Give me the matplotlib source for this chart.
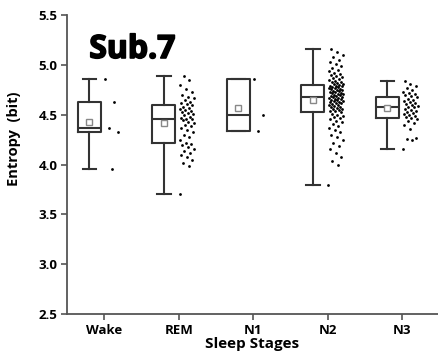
import matplotlib.pyplot as plt
import matplotlib.patheffects as pe
import numpy as np

stages = ['Wake', 'REM', 'N1', 'N2', 'N3']

wake = [4.86, 4.63, 4.37, 4.33, 3.95]
rem = [3.70, 3.98, 4.02, 4.05, 4.08, 4.10, 4.12, 4.14, 4.16, 4.18,
       4.20, 4.21, 4.22, 4.25, 4.28, 4.30, 4.33, 4.35, 4.37, 4.39,
       4.40, 4.42, 4.43, 4.45, 4.46, 4.46, 4.47, 4.48, 4.50, 4.51,
       4.52, 4.53, 4.54, 4.55, 4.56, 4.57, 4.58, 4.60, 4.61, 4.62,
       4.63, 4.65, 4.67, 4.68, 4.70, 4.73, 4.76, 4.80, 4.85, 4.89]
n1 = [4.86, 4.50, 4.34]
n2 = [3.79, 4.00, 4.04, 4.08, 4.12, 4.16, 4.19, 4.22, 4.25, 4.28,
      4.30, 4.33, 4.35, 4.37, 4.39, 4.41, 4.43, 4.44, 4.46, 4.47,
      4.48, 4.49, 4.50, 4.51, 4.53, 4.54, 4.54, 4.55, 4.56, 4.56,
      4.57, 4.58, 4.58, 4.59, 4.60, 4.60, 4.61, 4.62, 4.62, 4.63,
      4.63, 4.64, 4.64, 4.65, 4.65, 4.66, 4.66, 4.67, 4.67, 4.68,
      4.68, 4.69, 4.69, 4.70, 4.70, 4.71, 4.71, 4.72, 4.72, 4.73,
      4.73, 4.74, 4.74, 4.75, 4.75, 4.76, 4.76, 4.77, 4.77, 4.78,
      4.78, 4.79, 4.79, 4.79, 4.80, 4.81, 4.81, 4.82, 4.83, 4.83,
      4.84, 4.85, 4.86, 4.87, 4.88, 4.89, 4.90, 4.91, 4.92, 4.94,
      4.95, 4.97, 4.99, 5.01, 5.03, 5.05, 5.08, 5.10, 5.13, 5.16]
n3 = [4.16, 4.25, 4.26, 4.27, 4.36, 4.40, 4.42, 4.44, 4.46, 4.47,
      4.48, 4.49, 4.50, 4.51, 4.52, 4.53, 4.54, 4.55, 4.56, 4.58,
      4.58, 4.59, 4.60, 4.61, 4.62, 4.63, 4.64, 4.65, 4.66, 4.68,
      4.69, 4.70, 4.71, 4.72, 4.73, 4.75, 4.77, 4.79, 4.81, 4.84]

data = [wake, rem, n1, n2, n3]

plt.rcParams['font.family'] = ['Open Sans', 'DejaVu Sans']

fig = plt.figure(figsize=(4.38, 3.58), dpi=100)
ax = fig.add_axes([0.153, 0.123, 0.847, 0.835])

# box stats: nearest-rank quartiles, whiskers at min / max
stats = []
for vals in data:
    v = np.sort(vals)
    stats.append(dict(
        med=np.median(v),
        q1=np.percentile(v, 25, method='inverted_cdf'),
        q3=np.percentile(v, 75, method='inverted_cdf'),
        whislo=v.min(), whishi=v.max(),
        mean=v.mean(), fliers=[]))

pos = np.arange(1, len(stages) + 1)
line = dict(color='#333333', linewidth=1.5)
ax.bxp(stats, positions=pos - 0.2, widths=0.31, capwidths=0.18,
       showmeans=True, showfliers=False,
       boxprops=line, whiskerprops=line, capprops=line,
       medianprops=line,
       meanprops=dict(marker='s', markerfacecolor='white',
                      markeredgecolor='#888888', markersize=5,
                      markeredgewidth=1.0))

# raw points to the right of each box
for p, vals in zip(pos, data):
    k = np.arange(len(vals))
    dx = 0.01 + ((k * 0.618034) % 1.0) * 0.2
    ax.scatter(p + dx, vals, s=4, color='black', linewidths=0, zorder=3)

ax.set_xlim(0.5, 5.48)
ax.set_ylim(2.5, 5.5)
ax.set_xticks(pos)
ax.set_xticklabels(stages)
ax.set_yticks(np.arange(2.5, 5.51, 0.5))
ax.set_yticklabels(['%.1f' % t for t in np.arange(2.5, 5.51, 0.5)])

for s in ['top', 'right']:
    ax.spines[s].set_visible(False)
for s in ['left', 'bottom']:
    ax.spines[s].set_color('#555555')
    ax.spines[s].set_linewidth(1.3)
ax.tick_params(direction='out', length=4, width=1.2, color='#555555',
               labelsize=9.5, pad=3)
for lab in ax.get_xticklabels() + ax.get_yticklabels():
    lab.set_fontweight('bold')

ax.set_xlabel('Sleep Stages', fontsize=11, fontweight='bold', labelpad=0)
ax.set_ylabel('Entropy  (bit)', fontsize=10.5, fontweight='bold')
ax.yaxis.set_label_coords(-0.125, 0.585)

# heavy title, thickened with a stroke
ax.text(0.06, 0.94, 'Sub.7', transform=ax.transAxes, fontsize=23,
        fontweight='bold', ha='left', va='top',
        path_effects=[pe.withStroke(linewidth=1.2, foreground='black')])

fig.savefig('out.png', dpi=100)
